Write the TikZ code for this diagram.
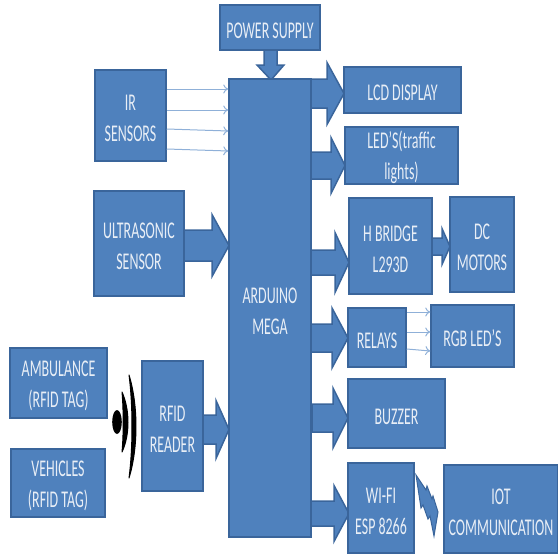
\documentclass[tikz,border=0pt]{standalone}
\usepackage{fontspec}
\setmainfont[FakeStretch=0.58]{Carlito}
\definecolor{boxfill}{HTML}{4F81BD}
\definecolor{boxline}{HTML}{3A659B}
\definecolor{thinline}{HTML}{8FB0D8}
\definecolor{txt}{HTML}{E8EEF6}
\tikzset{
  blk/.style={draw=boxline,line width=1.5pt,fill=boxfill,text=txt,font=\fontsize{24}{31}\selectfont,align=center,inner sep=0pt},
  bigarrow/.style={draw=boxline,line width=1.5pt,fill=boxfill,line join=miter},
  thinarrow/.style={draw=thinline,line width=1pt,-{To[length=5pt,width=9pt]}},
  wave/.style={fill=black,draw=black,line width=1pt,line join=round},
}
\usetikzlibrary{arrows.meta}
\newcommand{\harrow}[6]{% x0 x1 xtip ytop ybot halfhead
  \draw[bigarrow] (#1,#4) -- (#2,#4) -- (#2,{(#4+#5)/2-#6}) -- (#3,{(#4+#5)/2}) -- (#2,{(#4+#5)/2+#6}) -- (#2,#5) -- (#1,#5) -- cycle;}
\newcommand{\blockat}[6]{\node[blk,minimum width={(#4-#2)*1pt},minimum height={(#5-#3)*1pt}] (#1) at ({(#2+#4)/2},{(#3+#5)/2}) {\rule{0pt}{22pt}#6};}
\begin{document}
\begin{tikzpicture}[x=1pt,y=-1pt]
\useasboundingbox (0,0) rectangle (558,554);
% block arrows behind boxes
\harrow{184}{212}{229}{230}{261}{31}
\harrow{203}{216}{229}{415}{444}{29}
\harrow{311}{327}{344}{79}{108}{31}
\harrow{311}{331}{345}{152}{179}{28}
\harrow{311}{335}{349}{250}{275}{30}
\harrow{311}{332}{348}{324}{352}{30}
\harrow{312}{333}{348}{404}{432}{30}
\harrow{311}{334}{349}{501}{526}{28}
\harrow{432}{442}{450}{238}{255}{18}
\draw[bigarrow] (264,50) -- (277,50) -- (277,65) -- (284,65) -- (271,80) -- (257,65) -- (264,65) -- cycle;
% boxes
\blockat{power}{220}{5}{320}{50}{POWER SUPPLY}
\blockat{ir}{95}{70}{166}{161}{IR\\SENSORS}
\blockat{ultra}{94}{191}{184}{296}{ULTRASONIC\\SENSOR}
\blockat{mega}{229}{79}{311}{537}{ARDUINO\\MEGA}
\blockat{lcd}{344}{67}{461}{113}{LCD DISPLAY}
\blockat{led}{345}{129}{458}{182}{LED’S(traffic\\lights)}
\blockat{hb}{349}{198}{432}{294}{H BRIDGE\\L293D}
\blockat{dc}{450}{197}{514}{292}{DC\\MOTORS}
\blockat{relay}{348}{308}{406}{367}{RELAYS}
\blockat{rgb}{431}{305}{514}{367}{RGB LED’S}
\blockat{buzz}{348}{379}{445}{448}{BUZZER}
\blockat{wifi}{348}{463}{414}{553}{WI-FI\\ESP 8266}
\blockat{iot}{444}{465}{558}{553}{IOT\\COMMUNICATION}
\blockat{amb}{10}{348}{107}{418}{AMBULANCE\\(RFID TAG)}
\blockat{veh}{11}{449}{105}{517}{VEHICLES\\(RFID TAG)}
\blockat{reader}{142}{361}{203}{491}{RFID\\READER}
% thin arrows
\draw[thinarrow] (ir.east |- 0,89) -- (mega.west |- 0,89);
\draw[thinarrow] (ir.east |- 0,110) -- (mega.west |- 0,110);
\draw[thinarrow] (ir.east |- 0,129) -- (mega.west |- 0,131);
\draw[thinarrow] (ir.east |- 0,149) -- (mega.west |- 0,151);
\draw[thinarrow] (relay.east |- 0,312) -- (rgb.west |- 0,312);
\draw[thinarrow] (relay.east |- 0,332) -- (rgb.west |- 0,332);
\draw[thinarrow] (relay.east |- 0,349) -- (rgb.west |- 0,351);
% bolt
\draw[bigarrow,line width=1pt] (416,475) -- (426,490) -- (427,486) -- (432,499) -- (433,496) -- (438,512) -- (434,536) -- (430,516) -- (428,519) -- (423,505) -- (421,508) -- cycle;
% waves
\fill[black] (117,422) ellipse (4.8 and 12);
\draw[wave] (122,392) .. controls (130,410) and (130,435) .. (122,452) .. controls (123.6,435) and (123.6,410) .. cycle;
\draw[wave] (129,375) .. controls (138.3,405) and (138.3,448) .. (129,478) .. controls (133,448) and (133,405) .. cycle;
\end{tikzpicture}
\end{document}
